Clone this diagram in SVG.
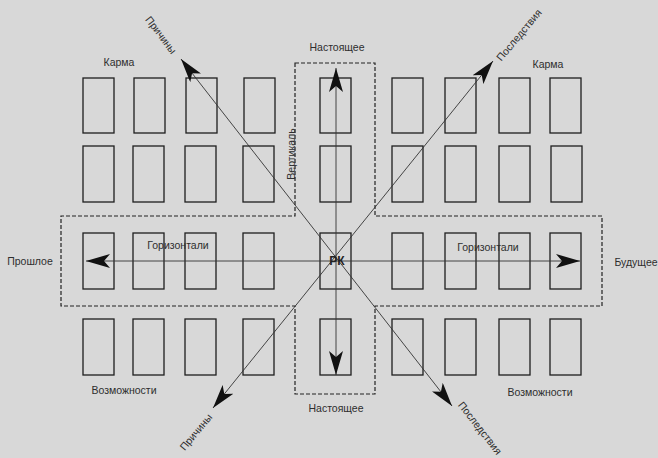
<svg xmlns="http://www.w3.org/2000/svg" width="658" height="458" viewBox="0 0 658 458">
<style>
.bg{fill:#d8d8d8}
.card{fill:none;stroke:#1e1e1e;stroke-width:1.3}
.zone{fill:none;stroke:#222;stroke-width:1.2;stroke-dasharray:4 2}
.ax{fill:none;stroke:#333;stroke-width:0.9}
.lb{font-family:"Liberation Sans",Arial,sans-serif;font-size:10.5px;fill:#2e2e2e;text-anchor:middle}
.pk{font-family:"Liberation Sans",Arial,sans-serif;font-size:12px;font-weight:bold;fill:#222;text-anchor:middle}
</style>
<defs>
<marker id="ah" viewBox="0 0 24 14" refX="24" refY="7" markerWidth="24" markerHeight="14" markerUnits="userSpaceOnUse" orient="auto-start-reverse">
<path d="M0,0 L24,7 L0,14 L6,7 Z" fill="#111"/>
</marker>
</defs>
<rect class="bg" x="0" y="0" width="658" height="458"/>

<g id="zone-cross">
<path class="zone" d="M295,63 H375 V216 H602 V306 H375 V394 H295 V306 H61 V216 H295 Z"/>
</g>

<g id="cards">
<g id="row1">
<rect class="card" x="83" y="78" width="31" height="55"/>
<rect class="card" x="134" y="78" width="31" height="55"/>
<rect class="card" x="186" y="78" width="31" height="55"/>
<rect class="card" x="244" y="78" width="31" height="55"/>
<rect class="card" x="320" y="78" width="31" height="55"/>
<rect class="card" x="392" y="78" width="31" height="55"/>
<rect class="card" x="445" y="78" width="31" height="55"/>
<rect class="card" x="499" y="78" width="31" height="55"/>
<rect class="card" x="550" y="78" width="31" height="55"/>
</g>
<g id="row2">
<rect class="card" x="83" y="146" width="31" height="56"/>
<rect class="card" x="133" y="146" width="31" height="56"/>
<rect class="card" x="185" y="146" width="31" height="56"/>
<rect class="card" x="243" y="146" width="31" height="56"/>
<rect class="card" x="320" y="146" width="31" height="56"/>
<rect class="card" x="392" y="146" width="31" height="56"/>
<rect class="card" x="445" y="146" width="31" height="56"/>
<rect class="card" x="499" y="146" width="31" height="56"/>
<rect class="card" x="551" y="146" width="31" height="56"/>
</g>
<g id="row3">
<rect class="card" x="83" y="233" width="31" height="56"/>
<rect class="card" x="133" y="233" width="31" height="56"/>
<rect class="card" x="185" y="233" width="31" height="56"/>
<rect class="card" x="243" y="233" width="31" height="56"/>
<rect class="card" x="320" y="233" width="31" height="56"/>
<rect class="card" x="392" y="233" width="31" height="56"/>
<rect class="card" x="445" y="233" width="31" height="56"/>
<rect class="card" x="499" y="233" width="31" height="56"/>
<rect class="card" x="550" y="233" width="31" height="56"/>
</g>
<g id="row4">
<rect class="card" x="83" y="319" width="31" height="56"/>
<rect class="card" x="133" y="319" width="31" height="56"/>
<rect class="card" x="185" y="319" width="31" height="56"/>
<rect class="card" x="243" y="319" width="31" height="56"/>
<rect class="card" x="320" y="319" width="31" height="56"/>
<rect class="card" x="392" y="319" width="31" height="56"/>
<rect class="card" x="445" y="319" width="31" height="56"/>
<rect class="card" x="499" y="319" width="31" height="56"/>
<rect class="card" x="550" y="319" width="31" height="56"/>
</g>
</g>

<g id="connectors">
<line class="ax" x1="86" y1="261" x2="580" y2="261" marker-start="url(#ah)" marker-end="url(#ah)"/>
<line class="ax" x1="336" y1="68" x2="336" y2="375" marker-start="url(#ah)" marker-end="url(#ah)"/>
<line class="ax" x1="181" y1="59" x2="452" y2="406" marker-start="url(#ah)" marker-end="url(#ah)"/>
<line class="ax" x1="493" y1="61" x2="213" y2="408" marker-start="url(#ah)" marker-end="url(#ah)"/>
</g>

<g id="labels">
<text class="lb" x="337" y="51">Настоящее</text>
<text class="lb" x="336" y="412">Настоящее</text>
<text class="lb" x="119" y="66">Карма</text>
<text class="lb" x="548" y="68">Карма</text>
<text class="lb" x="30" y="265">Прошлое</text>
<text class="lb" x="636" y="266">Будущее</text>
<text class="lb" x="178" y="249">Горизонтали</text>
<text class="lb" x="488" y="251">Горизонтали</text>
<text class="lb" x="124" y="394">Возможности</text>
<text class="lb" x="540" y="396">Возможности</text>
<text class="lb" transform="translate(291,154) rotate(-90)" dy="0.35em">Вертикаль</text>
<text class="lb" transform="translate(161,35) rotate(53)" dy="0.35em">Причины</text>
<text class="lb" transform="translate(519,35) rotate(-50)" dy="0.35em">Последствия</text>
<text class="lb" transform="translate(196,432) rotate(-50)" dy="0.35em">Причины</text>
<text class="lb" transform="translate(480,428) rotate(52)" dy="0.35em">Последствия</text>
<text class="pk" x="337" y="265">РК</text>
</g>
</svg>
